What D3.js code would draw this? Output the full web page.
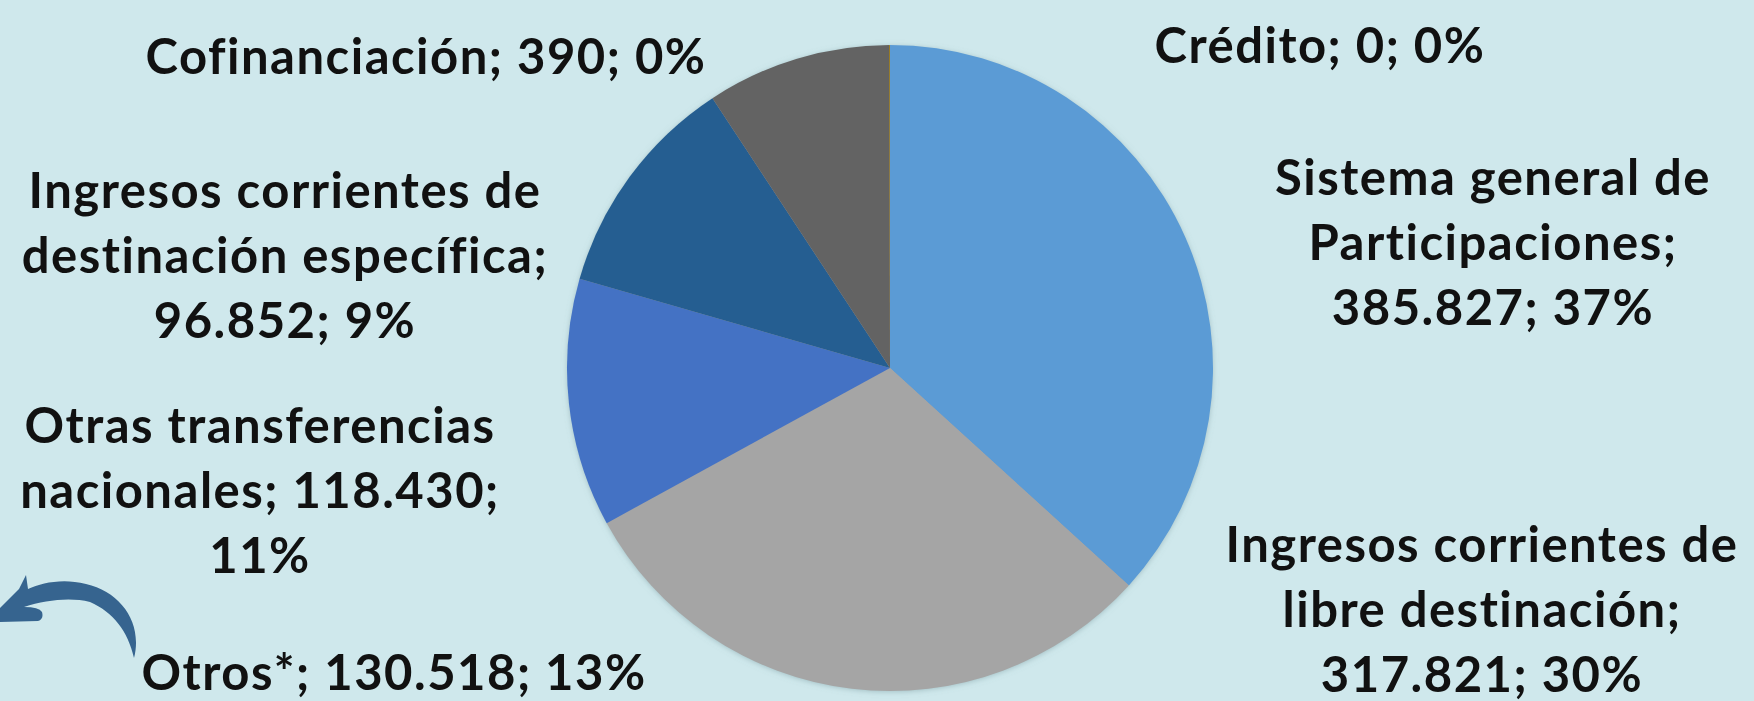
<!DOCTYPE html>
<html>
<head>
<meta charset="utf-8">
<script src="https://cdn.jsdelivr.net/npm/d3@7"></script>
<style>
  html, body { margin: 0; padding: 0; background: #CFE8EC; }
  svg { display: block; }
</style>
</head>
<body>
<svg id="chart" width="1754" height="701"></svg>
<script>
// ---- data ----
const categories = [
  "Crédito",
  "Sistema general de Participaciones",
  "Ingresos corrientes de libre destinación",
  "Otros*",
  "Otras transferencias nacionales",
  "Ingresos corrientes de destinación específica",
  "Cofinanciación"
];
const values = [0, 385827, 317821, 130518, 118430, 96852, 390];
const percents = [0, 37, 30, 13, 11, 9, 0];
const colors = ["#ED7D31", "#5B9BD5", "#A5A5A5", "#4472C4", "#255E91", "#636363", "#997300"];

// ---- layout (label anchors, words per line) ----
const labelLayout = [
  { x: 1320, y: 63,  lines: [3] },
  { x: 1493, y: 195, lines: [3, 1, 2] },
  { x: 1482, y: 562, lines: [3, 2, 2] },
  { x: 394,  y: 690, lines: [3] },
  { x: 260,  y: 443, lines: [2, 2, 1] },
  { x: 285,  y: 208, lines: [3, 2, 2] },
  { x: 426,  y: 74,  lines: [3] }
];
const lineHeight = 65;
const fontSize = 49;

const W = 1754, H = 701;
const cx = 890, cy = 368, R = 323;

const svg = d3.select("#chart");
svg.append("rect").attr("width", W).attr("height", H).attr("fill", "#CFE8EC");

const defs = svg.append("defs");
const f = defs.append("filter").attr("id", "shadow")
  .attr("x", "-10%").attr("y", "-10%").attr("width", "120%").attr("height", "120%");
f.append("feDropShadow").attr("dx", 0).attr("dy", 1).attr("stdDeviation", 3)
  .attr("flood-color", "#6a8a90").attr("flood-opacity", 0.55);

const locale = d3.formatLocale({ decimal: ",", thousands: ".", grouping: [3], currency: ["$", ""] });
const fmt = locale.format(",d");

const pie = d3.pie().sort(null).value(d => d)(values);
const arc = d3.arc().innerRadius(0).outerRadius(R);

const g = svg.append("g").attr("transform", `translate(${cx},${cy})`);
g.append("circle").attr("r", R - 1).attr("fill", "#A5A5A5").attr("filter", "url(#shadow)");
g.selectAll("path.slice").data(pie).join("path")
  .attr("class", "slice")
  .attr("d", arc)
  .attr("fill", (d, i) => colors[i]);

// ---- labels ----
const lg = svg.append("g")
  .attr("font-family", "Lato, 'Open Sans', sans-serif")
  .attr("font-weight", 700)
  .attr("font-size", fontSize)
  .attr("letter-spacing", 1.5)
  .attr("fill", "#111")
  .attr("text-anchor", "middle");

categories.forEach((name, i) => {
  const str = `${name}; ${fmt(values[i])}; ${percents[i]}%`;
  const words = str.split(" ");
  const L = labelLayout[i];
  const lines = [];
  let k = 0;
  L.lines.forEach(n => { lines.push(words.slice(k, k + n).join(" ")); k += n; });
  if (k < words.length) lines[lines.length - 1] += " " + words.slice(k).join(" ");
  const t = lg.append("text").attr("x", L.x).attr("y", L.y);
  lines.forEach((ln, j) => {
    t.append("tspan").attr("x", L.x).attr("y", L.y + j * lineHeight).text(ln);
  });
});

// ---- decorative arrow ----
svg.append("path")
  .attr("fill", "#36648F")
  .attr("d", "M134,658 C143,623 121,592 86,584 C62,578 42,583 28,589 L26,575 L19,589 L-6,614 L0,622 L38,621 Q44,619 42,612 Q39,607 24,607 C46,600 70,597 90,602 C113,612 128,631 134,658 Z");
</script>
</body>
</html>
